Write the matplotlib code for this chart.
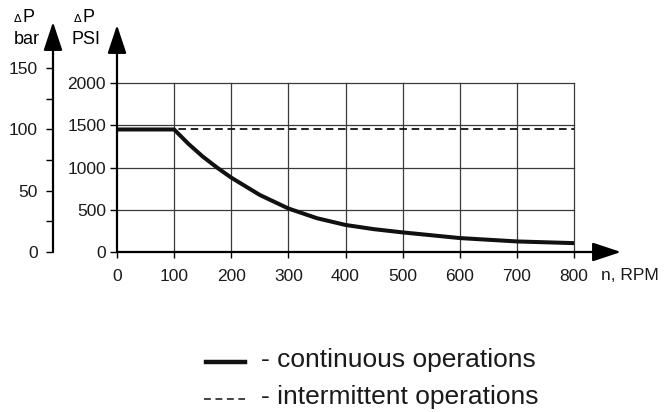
import matplotlib.pyplot as plt
from matplotlib.lines import Line2D

# data
rpm = [0, 100, 125, 150, 175, 200, 250, 300, 350, 400, 450, 500, 600, 700, 800]
dp_cont = [1450, 1450, 1280, 1130, 1000, 880, 675, 515, 400, 320, 270, 232, 165, 125, 105]
dp_inter = [1450, 1450]
rpm_inter = [0, 800]

x_ticks = [0, 100, 200, 300, 400, 500, 600, 700, 800]
psi_ticks = [0, 500, 1000, 1500, 2000]
bar_ticks = [0, 50, 100, 150]
bar_minor = [25, 75, 125]
PSI_PER_BAR = 14.5038

W, H = 668, 412


def fx(px):
    return px / W


def fy(py):
    return (H - py) / H


def main():
    plt.rcParams['font.family'] = ['Liberation Sans', 'DejaVu Sans']
    fig = plt.figure(figsize=(6.68, 4.12), dpi=100)

    # main axes: 0..800 rpm -> px 117..574, 0..2000 psi -> px 252..83
    left, right, bottom, top = 117, 621, 252, 22
    ax = fig.add_axes([fx(left), fy(bottom), (right - left) / W, (bottom - top) / H])
    xmax = (right - left) / ((574 - 117) / 800)
    ymax = (bottom - top) / ((252 - 83) / 2000)
    ax.set_xlim(0, xmax)
    ax.set_ylim(0, ymax)
    ax.patch.set_visible(False)
    for s in ax.spines.values():
        s.set_visible(False)

    # grid
    for v in x_ticks[1:]:
        ax.plot([v, v], [0, 2000], color='#3a3a3a', lw=0.9, zorder=1)
    for h in psi_ticks[1:]:
        ax.plot([0, 800], [h, h], color='#3a3a3a', lw=0.9, zorder=1)

    ax.plot(rpm_inter, dp_inter, color='#111111', lw=1.3, ls=(0, (4.2, 2.6)), zorder=2)
    ax.plot(rpm, dp_cont, color='#111111', lw=2.9, solid_capstyle='butt',
            solid_joinstyle='round', zorder=3)

    arrow = dict(arrowstyle='-|>,head_length=1.75,head_width=0.58', mutation_scale=10,
                 color='black', lw=1.6, shrinkA=0, shrinkB=0)
    ax.annotate('', xy=(xmax, 0), xytext=(0, 0), arrowprops=arrow, annotation_clip=False)
    ax.annotate('', xy=(0, ymax - 3 / 0.0845), xytext=(0, 0), arrowprops=arrow,
                annotation_clip=False)

    ax.set_xticks(x_ticks)
    ax.set_xticklabels([str(t) for t in x_ticks])
    ax.set_yticks(psi_ticks)
    ax.set_yticklabels([str(t) for t in psi_ticks])
    ax.tick_params(axis='x', direction='out', length=4, width=1, pad=8, labelsize=12.5,
                   labelcolor='#1a1a1a')
    ax.tick_params(axis='y', direction='out', length=5, width=1, pad=3, labelsize=12.5,
                   labelcolor='#1a1a1a')

    # bar scale on its own axis further left
    ax2 = fig.add_axes([fx(53), fy(bottom), 0.0001, (bottom - top) / H])
    ax2.set_ylim(0, ymax / PSI_PER_BAR)
    ax2.patch.set_visible(False)
    for s in ax2.spines.values():
        s.set_visible(False)
    ax2.set_xticks([])
    ax2.set_yticks(bar_ticks)
    ax2.set_yticklabels([str(t) for t in bar_ticks])
    ax2.set_yticks(bar_minor, minor=True)
    ax2.tick_params(axis='y', which='both', direction='out', length=5, width=1, pad=6,
                    labelsize=12.5, labelcolor='#1a1a1a')
    ax2.annotate('', xy=(0, 1), xytext=(0, 0), xycoords='axes fraction',
                 arrowprops=arrow, annotation_clip=False)

    # axis titles
    fig.text(fx(23), fy(18), r'$\Delta$', fontsize=8, ha='right', va='center')
    fig.text(fx(22), fy(17), 'P', fontsize=13, ha='left', va='center')
    fig.text(fx(27), fy(39), 'bar', fontsize=13, ha='center', va='center')
    fig.text(fx(83), fy(18), r'$\Delta$', fontsize=8, ha='right', va='center')
    fig.text(fx(82), fy(17), 'P', fontsize=13, ha='left', va='center')
    fig.text(fx(86), fy(40), 'PSI', fontsize=13, ha='center', va='center')
    fig.text(fx(601), fy(276), 'n, RPM', fontsize=12.5, ha='left', va='center',
             color='#1a1a1a')

    # legend drawn by hand
    fig.add_artist(Line2D([fx(206), fx(245)], [fy(362), fy(362)], color='#111111', lw=3.2))
    fig.add_artist(Line2D([fx(204), fx(245)], [fy(399), fy(399)], color='#111111', lw=1.1,
                          ls=(0, (4.5, 3.0))))
    fig.text(fx(261), fy(360), '- continuous operations', fontsize=19, ha='left',
             va='center', color='#1a1a1a')
    fig.text(fx(261), fy(397), '- intermittent operations', fontsize=19, ha='left',
             va='center', color='#1a1a1a')

    fig.savefig('out.png', dpi=100)


if __name__ == '__main__':
    main()
